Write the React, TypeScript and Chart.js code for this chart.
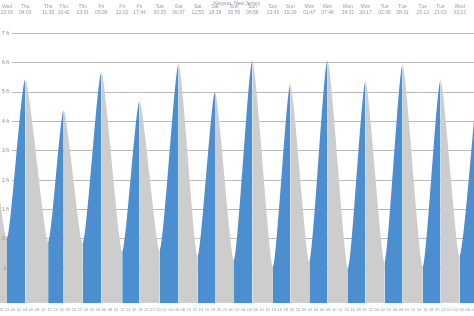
import { useEffect, useRef } from "react";
import { Chart, registerables } from "chart.js";

Chart.register(...registerables);

const TITLE = "Keyport, New Jersey";
const DAY_NAMES = ["Wed", "Thu", "Fri", "Sat", "Sun", "Mon", "Tue", "Wed"];

// Successive high / low tides (day index into DAY_NAMES, clock time, height in ft)
const extremeDayIdx = [0, 0, 1, 1, 1, 1, 2, 2, 2, 3, 3, 3, 3, 4, 4, 4, 4, 5, 5, 5, 5, 6, 6, 6, 6, 7, 7];
const extremeTimes = [
  "16:10", "22:00", "04:03", "11:35", "16:42", "23:01", "05:09", "12:02", "17:44",
  "00:25", "06:37", "12:55", "18:38", "00:55", "06:58", "13:45", "19:29",
  "01:47", "07:46", "14:31", "20:17", "02:36", "08:31", "15:13", "21:03", "03:22", "09:40",
];
const extremeHeights = [
  4.3, 0.0, 5.43, -0.1, 4.38, -0.15, 5.67, -0.43, 4.69,
  -0.4, 5.95, -0.6, 4.99, -0.72, 6.07, -0.95, 5.26,
  -0.78, 6.09, -1.0, 5.37, -0.78, 5.92, -0.95, 5.41, -0.58, 5.9,
];

const yTickValues = [7, 6, 5, 4, 3, 2, 1, 0, -1];
const Y_MIN = -2.18;
const Y_MAX = 7.11;
// hours relative to Wed 22:00
const X_MIN = -2.3;
const X_MAX = 154.1;
const BOTTOM_TICK_STEP = 2;

const BLUE = "#4b8fd1";
const GRAY = "#cdcdcd";
const FONT = "Liberation Sans";

const toHours = (dayIdx: number, time: string) => {
  const [hh, mm] = time.split(":").map(Number);
  return dayIdx * 24 + hh + mm / 60 - 22;
};

const extremeHours = extremeTimes.map((t, i) => toHours(extremeDayIdx[i], t));

const topTicks = extremeHours
  .map((h, i) => ({ h, day: DAY_NAMES[extremeDayIdx[i]], time: extremeTimes[i] }))
  .filter((d) => d.h >= X_MIN && d.h <= X_MAX);

const bottomTickValues: number[] = [];
for (let h = Math.ceil(X_MIN / BOTTOM_TICK_STEP) * BOTTOM_TICK_STEP; h <= X_MAX; h += BOTTOM_TICK_STEP) {
  bottomTickValues.push(h);
}
const hourLabel = (h: number) => {
  const v = (((22 + h) % 24) + 24) % 24;
  return String(Math.round(v)).padStart(2, "0");
};

const noPadding = (scale: any) => {
  scale.paddingLeft = 0;
  scale.paddingRight = 0;
  scale.paddingTop = 0;
  scale.paddingBottom = 0;
};

export default function App() {
  const ref = useRef<HTMLCanvasElement | null>(null);

  useEffect(() => {
    if (!ref.current) return;
    const chart = new Chart(ref.current, {
      type: "line",
      data: {
        datasets: [
          {
            data: extremeHours.map((h, i) => ({ x: h, y: extremeHeights[i] })),
            borderWidth: 0,
            borderColor: "rgba(0,0,0,0)",
            pointRadius: 0,
            tension: 0.2,
            fill: "start",
            backgroundColor: GRAY,
            segment: {
              backgroundColor: (ctx: any) => (ctx.p1.parsed.y > ctx.p0.parsed.y ? BLUE : GRAY),
            },
            xAxisID: "x",
            yAxisID: "y",
          },
        ],
      },
      options: {
        animation: false,
        responsive: false,
        maintainAspectRatio: false,
        layout: { padding: 0 },
        plugins: { legend: { display: false }, tooltip: { enabled: false }, title: { display: false } },
        scales: {
          x: {
            type: "linear",
            position: "bottom",
            min: X_MIN,
            max: X_MAX,
            grid: { display: false, drawTicks: false },
            border: { display: false },
            afterBuildTicks: (scale: any) => {
              scale.ticks = bottomTickValues.map((v) => ({ value: v }));
            },
            afterFit: (scale: any) => {
              scale.height = 13;
              noPadding(scale);
            },
            ticks: {
              autoSkip: false,
              maxRotation: 0,
              padding: 4,
              color: "#999",
              font: { family: FONT, size: 4 },
              callback: (v: any) => hourLabel(Number(v)),
            },
          },
          xTop: {
            type: "linear",
            position: "top",
            min: X_MIN,
            max: X_MAX,
            grid: { display: false, drawTicks: false },
            border: { display: false },
            title: {
              display: true,
              text: TITLE,
              color: "#8797ad",
              font: { family: FONT, size: 5, lineHeight: 1.2 },
              padding: { top: 1, bottom: 0 },
            },
            afterBuildTicks: (scale: any) => {
              scale.ticks = topTicks.map((d) => ({ value: d.h }));
            },
            afterFit: (scale: any) => {
              scale.height = 30;
              noPadding(scale);
            },
            ticks: {
              autoSkip: false,
              maxRotation: 0,
              padding: 14.5,
              color: "#9a9a9a",
              font: { family: FONT, size: 5, lineHeight: 1.2 },
              callback: (_v: any, i: number) => [topTicks[i].day, topTicks[i].time],
            },
          },
          y: {
            type: "linear",
            position: "left",
            min: Y_MIN,
            max: Y_MAX,
            grid: { color: "#bbbbbb", lineWidth: 1, drawTicks: false },
            border: { display: false },
            afterBuildTicks: (scale: any) => {
              scale.ticks = yTickValues.map((v) => ({ value: v }));
            },
            afterFit: (scale: any) => {
              scale.width = 0;
              noPadding(scale);
            },
            ticks: {
              mirror: true,
              padding: 2,
              color: "rgba(0,0,0,0)",
              showLabelBackdrop: true,
              backdropColor: "#ffffff",
              backdropPadding: { left: 2, right: 3, top: 1, bottom: 1 },
              font: { family: FONT, size: 5 },
              callback: (v: any) => `${v} ft`,
            },
          },
          yLabels: {
            type: "linear",
            position: "left",
            min: Y_MIN,
            max: Y_MAX,
            grid: { display: false, drawTicks: false },
            border: { display: false },
            afterBuildTicks: (scale: any) => {
              scale.ticks = yTickValues.map((v) => ({ value: v }));
            },
            afterFit: (scale: any) => {
              scale.width = 0;
              noPadding(scale);
            },
            ticks: {
              z: 1,
              mirror: true,
              padding: 2,
              color: "#888888",
              font: { family: FONT, size: 5 },
              callback: (v: any) => `${v} ft`,
            },
          },
        },
      } as any,
    });
    return () => chart.destroy();
  }, []);

  return (
    <div style={{ position: "absolute", left: 0, top: 0, width: 474, height: 316, background: "#fff" }}>
      <canvas ref={ref} width={474} height={316} style={{ display: "block", width: 474, height: 316 }} />
    </div>
  );
}
